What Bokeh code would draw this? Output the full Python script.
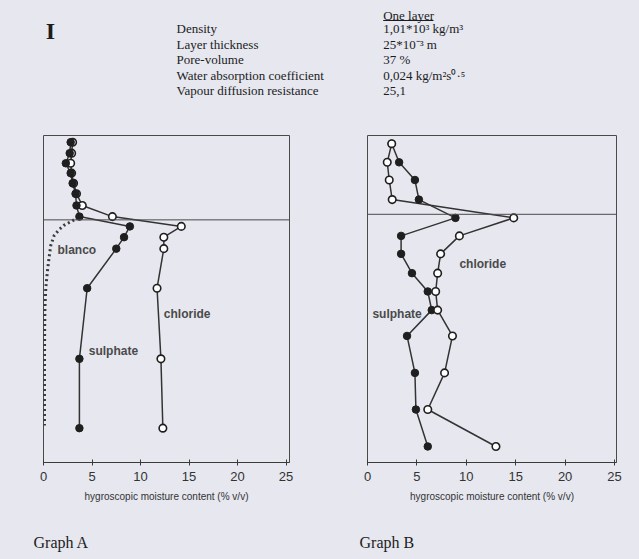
from bokeh.plotting import figure
from bokeh.models import Range1d, FixedTicker, Span, ColumnDataSource
from bokeh.layouts import column, row
from bokeh.core.properties import value
from bokeh.embed import file_html
from bokeh.resources import INLINE

BG = "#e6e7ef"
INK = "#1c1c1c"

# ---------------- data ----------------
# header table
prop_names = ["Density", "Layer thickness", "Pore-volume",
              "Water absorption coefficient", "Vapour diffusion resistance"]
prop_values = ["1,01*10³ kg/m³", "25*10⁻³ m", "37 %", "0,024  kg/m²s⁰·⁵", "25,1"]
column_title = "One layer"

# depth below the surface (mm), x = hygroscopic moisture content (% v/v)
x_ticks = [0, 5, 10, 15, 20, 25]

# Graph A
a_interface = 25.8
a_depth = [2.05, 5.4, 8.5, 11.5, 14.6, 17.8, 21.4, 24.8, 27.8, 31.1, 34.6, 46.7, 68.3, 89.5]
a_sulphate = [2.8, 2.7, 2.3, 2.8, 3.0, 3.3, 3.4, 3.7, 8.9, 8.3, 7.5, 4.5, 3.7, 3.7]
a_chloride = [3.0, 2.9, 2.8, 2.9, 3.1, 3.4, 4.0, 7.1, 14.2, 12.4, 12.4, 11.7, 12.1, 12.3]
a_blanco_depth = [25.8, 27.5, 28.8, 30.6, 33.6, 37.2, 41.3, 46.4, 52.5, 58.6, 70.0, 88.7]
a_blanco = [3.15, 2.1, 1.6, 1.1, 0.75, 0.58, 0.41, 0.24, 0.15, 0.12, 0.1, 0.1]

# Graph B
b_interface = 24.1
b_depth = [2.5, 8.2, 13.6, 19.6, 25.2, 30.7, 36.2, 42.1, 47.7, 53.4, 61.3, 72.6, 83.8, 95.1]
b_sulphate = [2.45, 3.2, 4.8, 5.2, 8.9, 3.4, 3.4, 4.5, 6.1, 6.5, 4.0, 4.8, 4.9, 6.1]
b_chloride = [2.45, 2.0, 2.2, 2.5, 14.8, 9.3, 7.4, 7.1, 6.9, 7.1, 8.6, 7.8, 6.1, 13.0]


def base_fig(width, height, xr, yr, **kw):
    p = figure(width=width, height=height, x_range=xr, y_range=yr,
               toolbar_location=None, output_backend="svg", **kw)
    p.background_fill_color = BG
    p.border_fill_color = BG
    p.grid.visible = False
    return p


def blank_fig(width, height):
    p = base_fig(width, height, Range1d(0, width), Range1d(height, 0),
                 x_axis_location=None, y_axis_location=None)
    p.min_border_left = p.min_border_right = 0
    p.min_border_top = p.min_border_bottom = 0
    p.outline_line_color = None
    return p


def graph(width, border_left, border_right, x_end, interface, depth,
          sulphate, chloride, labels, blanco=None, blanco_depth=None,
          filled_on_top=False):
    p = base_fig(width, 392, Range1d(0, x_end), Range1d(100, 0),
                 y_axis_location=None)
    p.min_border_left = border_left
    p.min_border_right = border_right
    p.min_border_top = 12
    p.min_border_bottom = 53
    p.outline_line_color = "#4a4a4a"
    p.outline_line_width = 1

    ax = p.xaxis[0]
    ax.ticker = FixedTicker(ticks=x_ticks)
    ax.minor_tick_line_color = None
    ax.major_tick_in = 3
    ax.major_tick_out = 3
    ax.axis_line_color = "#3a3a3a"
    ax.major_tick_line_color = "#3a3a3a"
    ax.major_label_text_font = "Liberation Sans"
    ax.major_label_text_font_size = "13px"
    ax.major_label_text_color = "#333333"
    ax.major_label_standoff = 6
    ax.axis_label = "hygroscopic moisture content (% v/v)"
    ax.axis_label_text_font = "Liberation Sans"
    ax.axis_label_text_font_size = "10px"
    ax.axis_label_text_font_style = "normal"
    ax.axis_label_text_color = "#333333"
    ax.axis_label_standoff = 7

    p.add_layout(Span(location=interface, dimension="width",
                      line_color="#4a4a4a", line_width=1))

    if blanco is not None:
        p.line(blanco, blanco_depth, line_color="#3a3a3a", line_width=3,
               line_dash="2 3")

    src = ColumnDataSource(dict(d=depth, s=sulphate, c=chloride))
    p.line("c", "d", source=src, line_color="#333333", line_width=1.5)
    p.line("s", "d", source=src, line_color="#333333", line_width=1.5)

    def filled():
        p.scatter("s", "d", source=src, size=7.5, fill_color="#1f1f1f",
                  line_color="#1f1f1f")

    def open_():
        p.scatter("c", "d", source=src, size=7.5, fill_color="white",
                  line_color="#1f1f1f", line_width=1.6)

    if filled_on_top:
        open_()
        filled()
    else:
        filled()
        open_()

    for txt, x, y in labels:
        p.text(x=[x], y=[y], text=[txt], text_font=value("Liberation Sans"),
               text_font_size="12px", text_font_style="bold",
               text_color="#4a4a4a", text_baseline="middle", text_align="left")
    return p


# header (page coordinates)
header = blank_fig(639, 123)
header.text(x=[50], y=[30], text=["I"], text_font=value("Liberation Serif"),
            text_font_size="24px", text_font_style="bold", text_color=INK,
            text_align="center", text_baseline="middle")
row_y = [28.3, 43.5, 59.0, 74.5, 90.0]
header.text(x=[176] * len(prop_names), y=row_y, text=prop_names,
            text_font=value("Liberation Serif"), text_font_size="13px",
            text_color=INK, text_baseline="middle", text_align="left")
header.text(x=[382.7] * len(prop_values), y=row_y, text=prop_values,
            text_font=value("Liberation Serif"), text_font_size="13px",
            text_color=INK, text_baseline="middle", text_align="left")
header.text(x=[382.7], y=[14.5], text=[column_title],
            text_font=value("Liberation Serif"), text_font_size="13px",
            text_color=INK, text_baseline="middle", text_align="left")
header.segment(x0=[382.7], y0=[20.0], x1=[433.0], y1=[20.0],
               line_color=INK, line_width=1)

figA = graph(330, 43, 41, 25.35, a_interface, a_depth, a_sulphate, a_chloride,
             [("blanco", 1.44, 35.0), ("chloride", 12.4, 54.5),
              ("sulphate", 4.66, 66.0)],
             blanco=a_blanco, blanco_depth=a_blanco_depth, filled_on_top=True)
figB = graph(309, 37, 23, 25.2, b_interface, b_depth, b_sulphate, b_chloride,
             [("chloride", 9.3, 39.2), ("sulphate", 0.5, 54.5)])

footer = blank_fig(639, 44)
footer.text(x=[33, 359], y=[26.7, 26.7], text=["Graph A", "Graph B"],
            text_font=value("Liberation Serif"), text_font_size="16px",
            text_color=INK, text_baseline="middle", text_align="left")

layout = column(header, row(figA, figB), footer)

html = file_html(layout, INLINE)
html = html.replace("<head>", "<head><style>body{background:%s;}</style>" % BG, 1)
open("out.html", "w").write(html)
